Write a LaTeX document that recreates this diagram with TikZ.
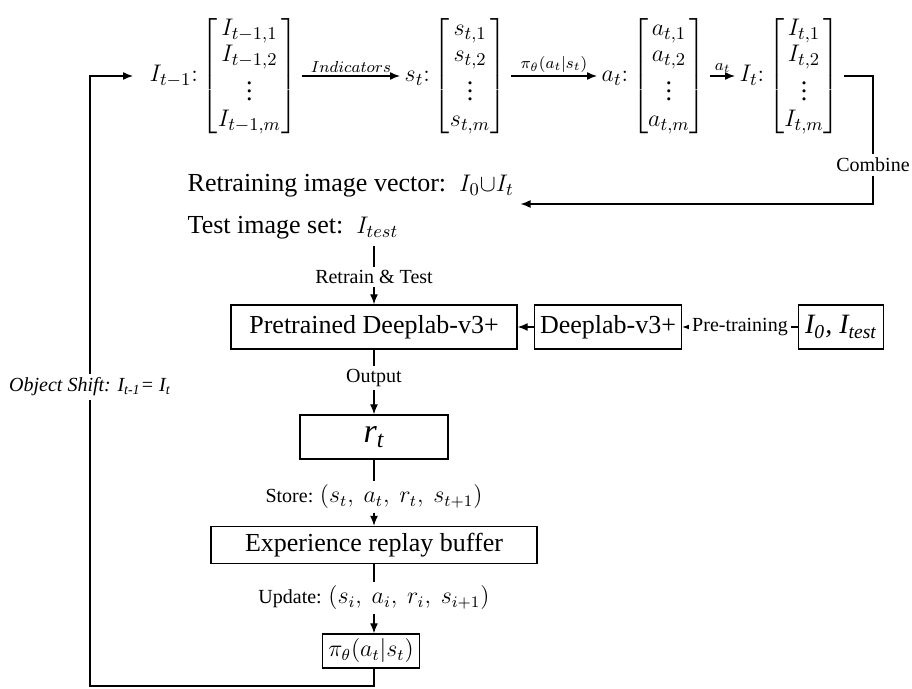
\documentclass[tikz,border=0pt]{standalone}
\usepackage{amsmath}
\usepackage{fontspec}
\setmainfont{Liberation Serif}
\usetikzlibrary{arrows.meta,positioning}

\begin{document}
\begin{tikzpicture}[
  x=0.5pt, y=-0.5pt,
  >={Latex[length=5pt,width=4pt]},
  line width=0.7pt,
  every node/.style={text=black},
  box/.style={draw,minimum height=22pt,inner sep=2pt,font=\fontsize{13}{15}\selectfont},
  lbl/.style={inner sep=1.5pt,font=\fontsize{10}{12}\selectfont},
  small/.style={inner sep=1.5pt,font=\fontsize{8.5}{10}\selectfont},
  vec/.style={inner sep=2pt,anchor=west,font=\fontsize{13}{13.2}\selectfont},
  txt/.style={inner sep=3pt,anchor=west,font=\fontsize{13}{15}\selectfont}
]
  \useasboundingbox (0,0) rectangle (912,689);

  % state vectors along the top
  \node[vec] (prev) at (145,76)
    {$I_{t-1}{:}\begin{bmatrix} I_{t-1,1}\\ I_{t-1,2}\\ \vdots\\ I_{t-1,m}\end{bmatrix}$};
  \node[vec] (state) at (400,76)
    {$s_t{:}\begin{bmatrix} s_{t,1}\\ s_{t,2}\\ \vdots\\ s_{t,m}\end{bmatrix}$};
  \node[vec] (action) at (597,76)
    {$a_t{:}\begin{bmatrix} a_{t,1}\\ a_{t,2}\\ \vdots\\ a_{t,m}\end{bmatrix}$};
  \node[vec] (curr) at (735,76)
    {$I_t{:}\begin{bmatrix} I_{t,1}\\ I_{t,2}\\ \vdots\\ I_{t,m}\end{bmatrix}$};
  \draw[->] (prev.east) -- node[small,above] {$Indicators$} (state.west);
  \draw[->] (state.east) -- node[small,above] {$\pi_\theta(a_t|s_t)$} (action.west);
  \draw[->] (action.east) -- node[small,above] {$a_t$} (curr.west);

  % retraining data
  \node[txt] (retrain) at (181,186) {Retraining image vector:\enspace$I_0{\cup}I_t$};
  \node[txt] (test) at (181,228) {Test image set:\enspace$I_{test}$};
  \node[lbl] (comb) at (873,165) {Combine};
  \draw (curr.east) -| (comb.north);
  \draw[->] (comb.south) |- ([yshift=-9pt]retrain.east);

  % networks
  \node[box,minimum width=143pt] (pre) at (374,327) {Pretrained Deeplab-v3+};
  \node[box,minimum width=73.5pt] (dlab) at (608,327) {Deeplab-v3+};
  \node[box,minimum width=42.5pt,font=\fontsize{14}{16}\selectfont\itshape] (data) at (841,327)
    {I\textsubscript{0}, I\textsubscript{test}};
  \node[lbl] (rt) at (374,277) {Retrain \& Test};
  \draw (rt.north |- test.south) -- (rt.north);
  \draw[->] (rt.south) -- (pre.north);
  \draw[->] (data.west) -- node[lbl,fill=white] {Pre-training} (dlab.east);
  \draw[->] (dlab.west) -- (pre.east);

  % reward and replay
  \node[box,minimum width=74pt,font=\fontsize{17}{18}\selectfont\itshape] (rew) at (374,437)
    {r\textsubscript{t}};
  \node[box,minimum width=163pt,minimum height=18.5pt] (buf) at (374,545) {Experience replay buffer};
  \node[box,minimum width=48.5pt,minimum height=17pt,font=\fontsize{12}{14}\selectfont] (pol) at (371,651)
    {$\pi_\theta(a_t|s_t)$};
  \node[lbl] (out) at (374,378) {Output};
  \node[lbl] (store) at (374,497)
    {Store: {\fontsize{11.5}{13}\selectfont$(s_t,\ a_t,\ r_t,\ s_{t+1})$}};
  \node[lbl] (upd) at (374,598)
    {Update: {\fontsize{11.5}{13}\selectfont$(s_i,\ a_i,\ r_i,\ s_{i+1})$}};
  \draw (pre.south) -- (out.north);
  \draw[->] (out.south) -- (rew.north);
  \draw (rew.south) -- (store.north);
  \draw[->] (store.south) -- (buf.north);
  \draw (buf.south) -- (upd.north);
  \draw[->] (upd.south) -- (pol.north -| upd.south);

  % loop back
  \node[lbl,font=\fontsize{10}{12}\selectfont\itshape] (shift) at (90,387)
    {Object Shift: I\textsubscript{t-1}= I\textsubscript{t}};
  \coordinate (loop) at (90,686);
  \draw (pol.south -| upd.south) |- (loop) -- (shift.south);
  \draw[->,shorten >=6pt] (shift.north) |- (prev.west);
\end{tikzpicture}
\end{document}
